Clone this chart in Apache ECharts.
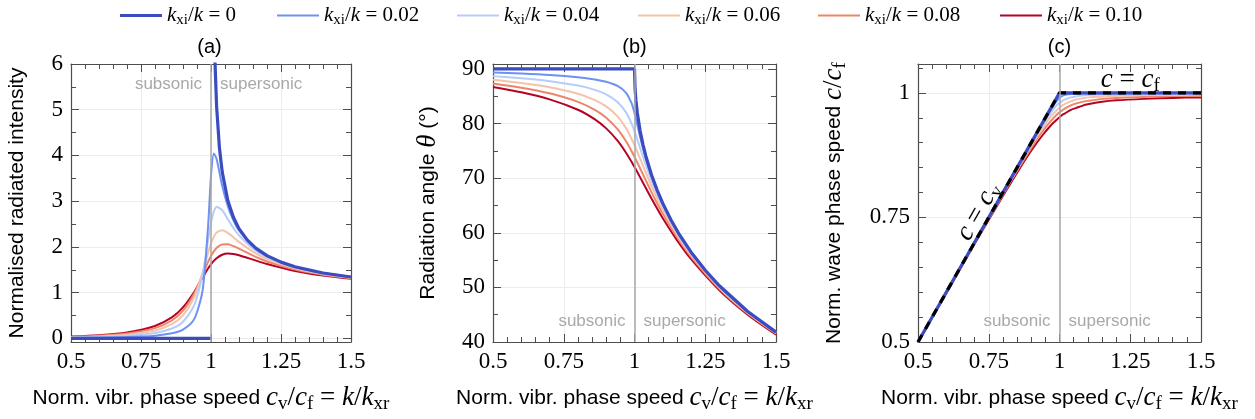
<!DOCTYPE html>
<html>
<head>
<meta charset="utf-8">
<script src="https://cdn.jsdelivr.net/npm/echarts@6/dist/echarts.min.js"></script>
<style>html,body{margin:0;padding:0;background:#fff}#c{width:1255px;height:419px}</style>
</head>
<body>
<div id="c"></div>
<script>
// ---------------- data ----------------
const lossLabels = ['0', '0.02', '0.04', '0.06', '0.08', '0.10'];

// common abscissa for lossy curves: c_v/c_f
const xs = [0.5, 0.6, 0.7, 0.8, 0.86, 0.9, 0.94, 0.97, 0.99, 1.0, 1.01, 1.02, 1.04, 1.06, 1.08, 1.1, 1.15, 1.2, 1.3, 1.4, 1.5];

// (a) normalised radiated intensity
const xsI0 = [0.5, 1.0, 1.0, 1.013, 1.02, 1.03, 1.04, 1.06, 1.08, 1.1, 1.13, 1.16, 1.2, 1.25, 1.3, 1.4, 1.5];
const I0  = [0, 0, null, 6.262, 5.075, 4.174, 3.641, 3.015, 2.648, 2.400, 2.147, 1.973, 1.809, 1.667, 1.565, 1.429, 1.342];
const I02 = [0.008, 0.014, 0.027, 0.059, 0.110, 0.192, 0.420, 1.052, 2.489, 3.553, 4.044, 3.923, 3.335, 2.888, 2.581, 2.360, 2.008, 1.800, 1.561, 1.427, 1.340];
const I04 = [0.015, 0.028, 0.054, 0.117, 0.215, 0.363, 0.724, 1.403, 2.161, 2.525, 2.771, 2.875, 2.801, 2.605, 2.414, 2.252, 1.961, 1.774, 1.549, 1.419, 1.335];
const I06 = [0.023, 0.042, 0.080, 0.172, 0.309, 0.501, 0.898, 1.439, 1.878, 2.071, 2.219, 2.314, 2.365, 2.308, 2.211, 2.109, 1.891, 1.733, 1.530, 1.408, 1.327];
const I08 = [0.031, 0.056, 0.105, 0.223, 0.390, 0.604, 0.981, 1.393, 1.679, 1.802, 1.903, 1.978, 2.054, 2.056, 2.017, 1.960, 1.809, 1.682, 1.505, 1.392, 1.316];
const I10 = [0.038, 0.069, 0.130, 0.271, 0.457, 0.677, 1.013, 1.329, 1.532, 1.619, 1.693, 1.753, 1.828, 1.854, 1.846, 1.819, 1.722, 1.625, 1.475, 1.374, 1.303];

// (b) radiation angle theta (deg)
const xsT0 = [0.5, 1.0, 1.002, 1.005, 1.01, 1.02, 1.03, 1.04, 1.06, 1.08, 1.1, 1.13, 1.16, 1.2, 1.25, 1.3, 1.4, 1.5];
const T0  = [90, 90, 86.38, 84.28, 81.93, 78.64, 76.14, 74.06, 70.63, 67.81, 65.38, 62.24, 59.55, 56.44, 53.13, 50.29, 45.58, 41.81];
const T02 = [89.34, 89.14, 88.88, 88.47, 88.07, 87.64, 86.88, 85.63, 83.67, 81.91, 79.72, 77.49, 73.57, 70.35, 67.62, 65.24, 60.33, 56.39, 50.25, 45.56, 41.79];
const T04 = [88.68, 88.28, 87.76, 86.95, 86.17, 85.34, 83.96, 82.05, 79.94, 78.58, 77.07, 75.50, 72.41, 69.59, 67.08, 64.84, 60.09, 56.22, 50.15, 45.49, 41.74];
const T06 = [88.01, 87.42, 86.64, 85.45, 84.30, 83.14, 81.32, 79.16, 77.18, 76.04, 74.82, 73.56, 71.01, 68.58, 66.32, 64.23, 59.71, 55.96, 49.99, 45.37, 41.64];
const T08 = [87.35, 86.57, 85.53, 83.97, 82.50, 81.06, 78.97, 76.75, 74.91, 73.90, 72.85, 71.77, 69.59, 67.45, 65.40, 63.49, 59.22, 55.60, 49.76, 45.21, 41.52];
const T10 = [86.70, 85.72, 84.43, 82.52, 80.76, 79.11, 76.86, 74.66, 72.95, 72.04, 71.10, 70.14, 68.20, 66.28, 64.43, 62.65, 58.64, 55.17, 49.49, 45.01, 41.36];

// (c) normalised wave phase speed c/c_f
const xsC0 = [0.5, 1.0, 1.5];
const C0  = [0.5, 1.0, 1.0];
const C02 = [0.500, 0.600, 0.700, 0.800, 0.860, 0.899, 0.939, 0.967, 0.984, 0.990, 0.994, 0.996, 0.998, 0.998, 0.999, 0.999, 0.999, 0.999, 1.000, 1.000, 1.000];
const C04 = [0.500, 0.600, 0.699, 0.799, 0.858, 0.897, 0.935, 0.961, 0.975, 0.980, 0.984, 0.987, 0.991, 0.993, 0.995, 0.996, 0.997, 0.997, 0.998, 0.998, 0.999];
const C06 = [0.500, 0.599, 0.699, 0.797, 0.856, 0.894, 0.929, 0.953, 0.965, 0.970, 0.975, 0.978, 0.983, 0.987, 0.989, 0.991, 0.993, 0.994, 0.996, 0.996, 0.997];
const C08 = [0.499, 0.599, 0.698, 0.796, 0.853, 0.889, 0.923, 0.944, 0.956, 0.961, 0.965, 0.969, 0.975, 0.979, 0.982, 0.984, 0.988, 0.990, 0.992, 0.994, 0.994];
const C10 = [0.499, 0.598, 0.697, 0.793, 0.849, 0.884, 0.915, 0.935, 0.946, 0.951, 0.956, 0.959, 0.966, 0.970, 0.974, 0.977, 0.982, 0.985, 0.988, 0.990, 0.991];

// axis tick values
const xMin = 0.5, xMax = 1.5, xStep = 0.25;
const yTicksA = [0, 1, 2, 3, 4, 5, 6];
const yMinorA = [0.5, 1.5, 2.5, 3.5, 4.5, 5.5];
const yTicksB = [40, 50, 60, 70, 80, 90];
const yMinorB = [45, 55, 65, 75, 85];
const yTicksC = [0.5, 0.75, 1];
const yMinorC = [0.55, 0.6, 0.65, 0.7, 0.8, 0.85, 0.9, 0.95, 1.05];

// ---------------- styling ----------------
const SERIF = 'Liberation Serif';
const SANS = 'Liberation Sans';
const FRAME = '#4d4d4d';
const GRIDC = '#ececec';
const VLINE = '#a8a8a8';
const TXTG = '#a9a9a9';
const lossColors = ['#3b4cc0', '#6f91f2', '#b5cdfa', '#f4c3a9', '#ee8569', '#b40426'];

function mathRich(F, color) {
  const lh = Math.round(F * 1.2);
  return {
    i: { fontFamily: SERIF, fontStyle: 'italic', fontWeight: 'normal', fontSize: F, color: color, lineHeight: lh },
    n: { fontFamily: SERIF, fontStyle: 'normal', fontWeight: 'normal', fontSize: F, color: color, lineHeight: lh },
    s: { fontFamily: SERIF, fontStyle: 'normal', fontWeight: 'normal', fontSize: Math.round(F * 0.7), color: color, lineHeight: Math.round(F * 0.7), verticalAlign: 'bottom' }
  };
}

const grids = [68, 493, 918].map(l => ({ left: l, top: 64, width: 283, height: 282 }));

const xName = 'Norm. vibr. phase speed {i|c}{s|v}{n|/}{i|c}{s|f}{n| = }{i|k}{n|/}{i|k}{s|xr}';
const yNames = ['Normalised radiated intensity', 'Radiation angle {i|θ} (°)', 'Norm. wave phase speed {i|c}{n|/}{i|c}{s|f}'];
const yCfg = [
  { min: -0.08, max: 6, major: yTicksA, minor: yMinorA, nameGap: 38 },
  { min: 40, max: 90.9, major: yTicksB, minor: yMinorB, nameGap: 49 },
  { min: 0.5, max: 1.058, major: yTicksC, minor: yMinorC, nameGap: 68 }
];
const tickLabelStyle = { fontFamily: SERIF, fontStyle: 'normal', fontWeight: 'normal', fontSize: 23, color: '#000' };

const xAxes = [], yAxes = [];
for (let g = 0; g < 3; g++) {
  const base = {
    type: 'value', gridIndex: g, min: xMin, max: xMax, interval: xStep,
    axisLine: { show: true, onZero: false, lineStyle: { color: FRAME, width: 1.2 } },
    axisTick: { show: true, inside: true, length: 8, lineStyle: { color: FRAME, width: 1 } },
    minorTick: { show: true, splitNumber: 5, length: 5, lineStyle: { color: FRAME, width: 1 } }
  };
  xAxes.push(Object.assign({}, base, {
    position: 'bottom',
    splitLine: { show: true, lineStyle: { color: GRIDC, width: 1 } },
    axisLabel: Object.assign({ show: true, margin: 8 }, tickLabelStyle),
    name: xName, nameLocation: 'middle', nameGap: 40,
    nameTextStyle: { fontFamily: SANS, fontSize: 21, color: '#000', lineHeight: 32, rich: mathRich(27, '#000') }
  }));
  xAxes.push(Object.assign({}, base, {
    position: 'top', splitLine: { show: false }, axisLabel: { show: false }
  }));
  const c = yCfg[g];
  const yb = { type: 'value', gridIndex: g, min: c.min, max: c.max };
  yAxes.push(Object.assign({}, yb, {
    position: 'left',
    axisLine: { show: true, onZero: false, lineStyle: { color: FRAME, width: 1.2 } },
    axisTick: { show: true, inside: true, length: 8, customValues: c.major, lineStyle: { color: FRAME } },
    axisLabel: Object.assign({ show: true, customValues: c.major, margin: 8 }, tickLabelStyle),
    splitLine: { show: true, lineStyle: { color: GRIDC, width: 1 } },
    name: yNames[g], nameLocation: 'middle', nameGap: c.nameGap,
    nameTextStyle: { fontFamily: SANS, fontSize: 21, color: '#000', lineHeight: 32, rich: mathRich(27, '#000') }
  }));
  yAxes.push(Object.assign({}, yb, {
    position: 'left', axisLine: { show: false },
    axisTick: { show: true, inside: true, length: 5, customValues: c.minor, lineStyle: { color: FRAME } },
    axisLabel: { show: false }, splitLine: { show: false }
  }));
  yAxes.push(Object.assign({}, yb, {
    position: 'right',
    axisLine: { show: true, onZero: false, lineStyle: { color: FRAME, width: 1.2 } },
    axisTick: { show: true, inside: true, length: 8, customValues: c.major, lineStyle: { color: FRAME } },
    axisLabel: { show: false }, splitLine: { show: false }
  }));
  yAxes.push(Object.assign({}, yb, {
    position: 'right', axisLine: { show: false },
    axisTick: { show: true, inside: true, length: 5, customValues: c.minor, lineStyle: { color: FRAME } },
    axisLabel: { show: false }, splitLine: { show: false }
  }));
}

function pairs(xv, yv) { return xv.map((x, i) => [x, yv[i]]); }

const panelData = [
  { lossless: pairs(xsI0, I0), lossy: [I02, I04, I06, I08, I10] },
  { lossless: pairs(xsT0, T0), lossy: [T02, T04, T06, T08, T10] },
  { lossless: pairs(xsC0, C0), lossy: [C02, C04, C06, C08, C10] }
];

const series = [];
for (let g = 0; g < 3; g++) {
  const pd = panelData[g];
  for (let k = 5; k >= 1; k--) {
    const s = {
      type: 'line', name: lossLabels[k], xAxisIndex: 2 * g, yAxisIndex: 4 * g,
      data: pairs(xs, pd.lossy[k - 1]), symbol: 'none', showSymbol: false,
      smooth: 0.25, clip: true,
      lineStyle: { color: lossColors[k], width: 2 }, itemStyle: { color: lossColors[k] },
      emphasis: { disabled: true }, silent: true
    };
    if (k === 5) {
      s.markLine = {
        silent: true, symbol: ['none', 'none'], label: { show: false },
        lineStyle: { color: VLINE, width: 1.5, type: 'solid' },
        emphasis: { disabled: true }, data: [{ xAxis: 1 }]
      };
    }
    series.push(s);
  }
  series.push({
    type: 'line', name: lossLabels[0], xAxisIndex: 2 * g, yAxisIndex: 4 * g,
    data: pd.lossless, symbol: 'none', showSymbol: false, smooth: false, clip: true,
    connectNulls: false,
    lineStyle: { color: lossColors[0], width: 3.2 }, itemStyle: { color: lossColors[0] },
    emphasis: { disabled: true }, silent: true
  });
  if (g === 2) {
    series.push({
      type: 'line', name: 'asymptote', xAxisIndex: 4, yAxisIndex: 8,
      data: pairs(xsC0, C0), symbol: 'none', showSymbol: false, clip: true,
      lineStyle: { color: '#000', width: 3.2, type: [8, 7] },
      emphasis: { disabled: true }, silent: true
    });
  }
}

const legendLeft = [120, 277, 457, 638, 818, 1000];
const legends = lossLabels.map((n, i) => ({
  data: [n], left: legendLeft[i], top: 5, padding: 0, itemGap: 0,
  itemWidth: 42, itemHeight: i === 0 ? 3 : 2, icon: 'rect', selectedMode: false,
  formatter: nm => '{i|k}{s|xi}{n|/}{i|k}{n| = ' + nm + '}',
  textStyle: { fontFamily: SERIF, fontSize: 21, color: '#000', rich: mathRich(21, '#000') }
}));

const chart = echarts.init(document.getElementById('c'), null, { renderer: 'canvas' });
chart.setOption({
  animation: false,
  backgroundColor: '#fff',
  grid: grids,
  xAxis: xAxes,
  yAxis: yAxes,
  legend: legends,
  series: series
});

// ---------------- annotations ----------------
const gfx = [];
const titles = ['(a)', '(b)', '(c)'];
for (let g = 0; g < 3; g++) {
  gfx.push({
    type: 'text', x: grids[g].left + grids[g].width / 2, y: 47, silent: true,
    style: { text: titles[g], fontFamily: SANS, fontSize: 20, fill: '#000', align: 'center', verticalAlign: 'middle' }
  });
}
const regionY = [5.56, 43.8, 0.541];
for (let g = 0; g < 3; g++) {
  const p = chart.convertToPixel({ xAxisIndex: 2 * g, yAxisIndex: 4 * g }, [1, regionY[g]]);
  gfx.push({ type: 'text', x: p[0] - 9, y: p[1], silent: true,
    style: { text: 'subsonic', fontFamily: SANS, fontSize: 17, fill: TXTG, align: 'right', verticalAlign: 'middle' } });
  gfx.push({ type: 'text', x: p[0] + 9, y: p[1], silent: true,
    style: { text: 'supersonic', fontFamily: SANS, fontSize: 17, fill: TXTG, align: 'left', verticalAlign: 'middle' } });
}
const pf = chart.convertToPixel({ xAxisIndex: 4, yAxisIndex: 8 }, [1.25, 1]);
gfx.push({ type: 'text', x: pf[0], y: pf[1] - 13, silent: true,
  style: { text: '{i|c}{n| = }{i|c}{s|f}', rich: mathRich(27, '#000'), align: 'center', verticalAlign: 'middle' } });
const p1 = chart.convertToPixel({ xAxisIndex: 4, yAxisIndex: 8 }, [0.5, 0.5]);
const p2 = chart.convertToPixel({ xAxisIndex: 4, yAxisIndex: 8 }, [1, 1]);
const pm = chart.convertToPixel({ xAxisIndex: 4, yAxisIndex: 8 }, [0.75, 0.75]);
const ang = Math.atan2(p1[1] - p2[1], p2[0] - p1[0]);
const off = 12;
gfx.push({ type: 'text', x: pm[0] - off * Math.sin(ang), y: pm[1] - off * Math.cos(ang), rotation: ang, silent: true,
  style: { text: '{i|c}{n| = }{i|c}{s|v}', rich: mathRich(27, '#000'), align: 'center', verticalAlign: 'middle' } });

chart.setOption({ graphic: gfx });
</script>
</body>
</html>
